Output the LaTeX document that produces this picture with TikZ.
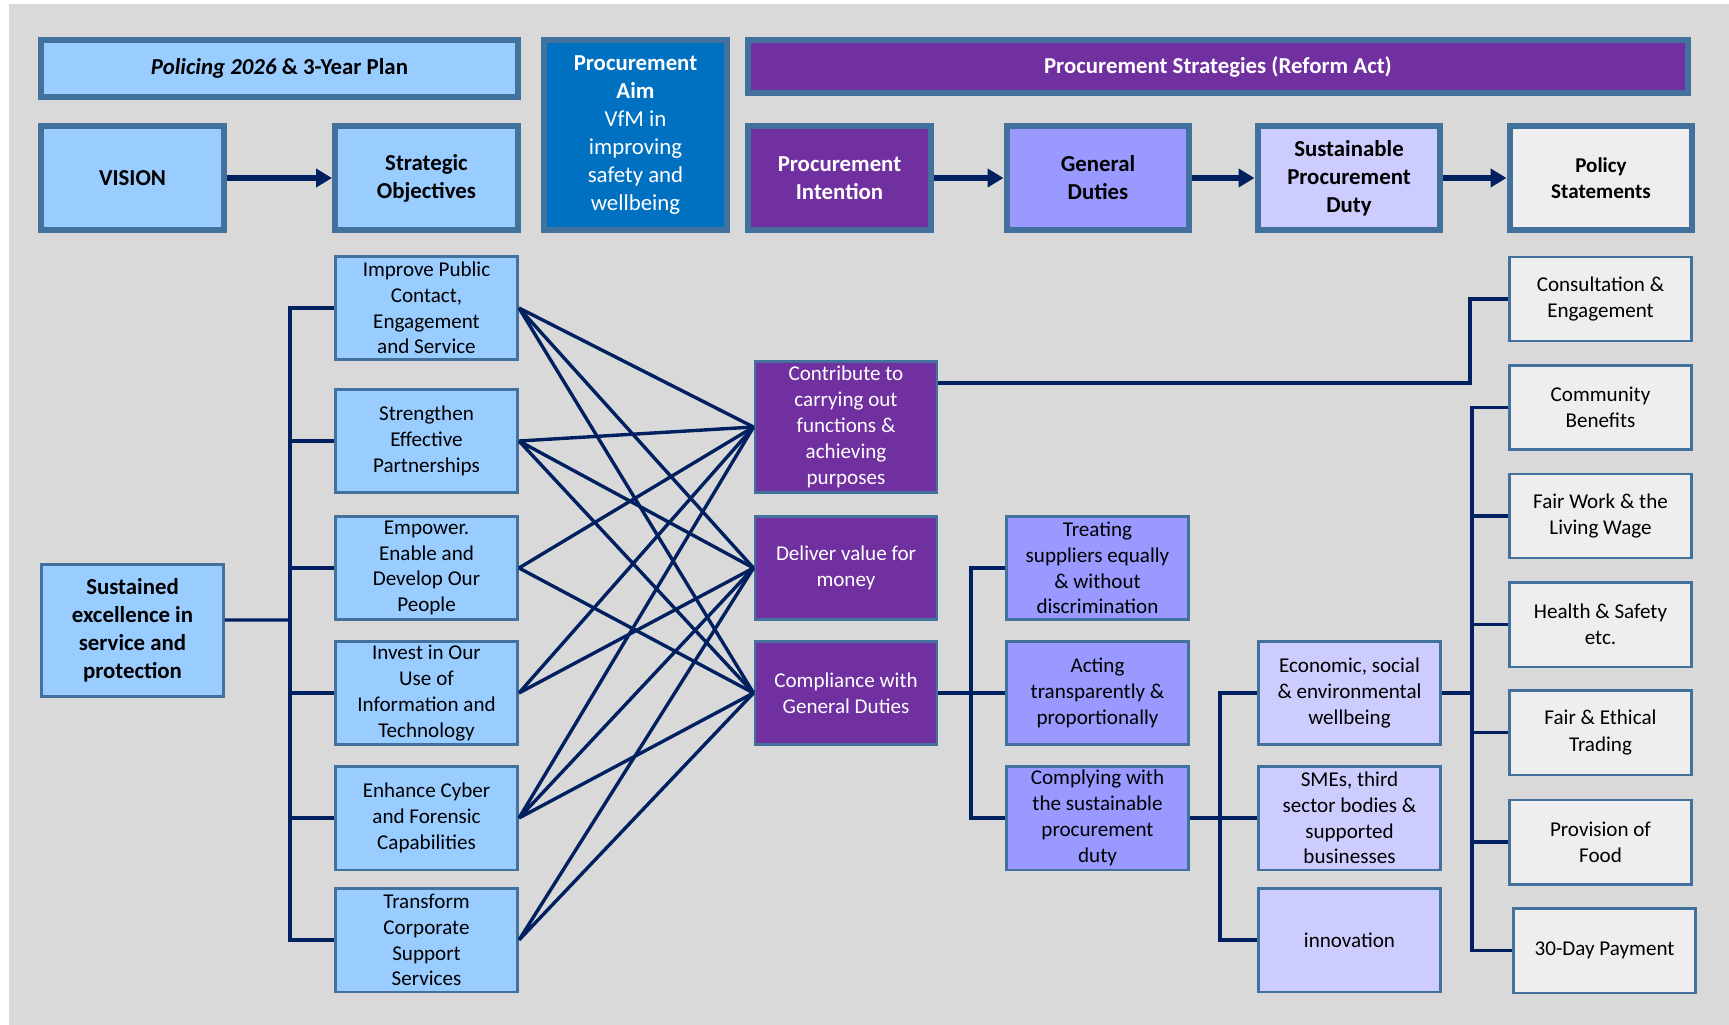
\documentclass[tikz,border=0pt]{standalone}
\usepackage{fontspec}
\setmainfont{Carlito}
\usetikzlibrary{arrows.meta}

\definecolor{bgrey}{HTML}{D9D9D9}
\definecolor{boxedge}{HTML}{41719C}
\definecolor{skyfill}{HTML}{99CCFF}
\definecolor{aimblue}{HTML}{0070C0}
\definecolor{purplefill}{HTML}{7030A0}
\definecolor{dutyfill}{HTML}{9999FF}
\definecolor{sustfill}{HTML}{CCCCFF}
\definecolor{policyfill}{HTML}{EEEEEE}
\definecolor{navy}{HTML}{002060}

\begin{document}
\begin{tikzpicture}[x=0.02cm,y=-0.02cm]
\tikzstyle{topbox}=[draw=boxedge,line width=0.12cm,align=center,inner sep=1pt,minimum width=3.66cm,minimum height=2.08cm,font=\fontsize{13}{16}\selectfont\bfseries]
\tikzstyle{lowbox}=[draw=boxedge,line width=0.05cm,align=center,inner xsep=2pt,inner ysep=0pt,minimum width=3.65cm,minimum height=2.07cm,font=\fontsize{12}{14.7}\selectfont]
\tikzstyle{listbox}=[lowbox,fill=policyfill,minimum height=1.69cm,font=\fontsize{12}{15}\selectfont]
\tikzstyle{link}=[draw=navy,line width=0.068cm]
\tikzstyle{flow}=[draw=navy,line width=0.12cm,-{Triangle[length=0.32cm,width=0.36cm]}]

\useasboundingbox (0,0) rectangle (1729,1025);
\fill[bgrey] (9,4) rectangle (1729,1025);

% header row
\node (plan) [topbox,fill=skyfill,minimum width=9.54cm,minimum height=1.14cm] at (279.5,68.5) {\textit{Policing 2026} \& 3-Year Plan};
\node (aim) [topbox,fill=aimblue,text=white,minimum height=3.8cm,font=\fontsize{13}{16}\selectfont] at (635.5,135) {\textbf{Procurement}\\\textbf{Aim}\\VfM in\\improving\\safety and\\wellbeing};
\node (strategy) [topbox,fill=purplefill,text=white,minimum width=18.8cm,minimum height=1.06cm] at (1218,66.5) {Procurement Strategies (Reform Act)};

\node (vision) [topbox,fill=skyfill] at (132.5,178) {VISION};
\node (objectives) [topbox,fill=skyfill] at (426.5,178) {Strategic\\Objectives};
\node (intention) [topbox,fill=purplefill,text=white] at (839.5,178) {Procurement\\Intention};
\node (duties) [topbox,fill=dutyfill] at (1098,178) {General\\Duties};
\node (sustain) [topbox,fill=sustfill] at (1349,178) {Sustainable\\Procurement\\Duty};
\node (policy) [topbox,fill=policyfill,font=\fontsize{12}{15}\selectfont\bfseries] at (1601,178) {Policy\\Statements};

\draw[flow] (vision) -- (objectives);
\draw[flow] (intention) -- (duties);
\draw[flow] (duties) -- (sustain);
\draw[flow] (sustain) -- (policy);

% vision and objectives
\node (excellence) [lowbox,fill=skyfill,minimum height=2.65cm,font=\fontsize{13}{16}\selectfont\bfseries] at (132.5,630.5) {Sustained\\excellence in\\service and\\protection};

\node (improve) [lowbox,fill=skyfill] at (426.5,308) {Improve Public\\Contact,\\Engagement\\and Service};
\node (strengthen) [lowbox,fill=skyfill] at (426.5,441) {Strengthen\\Effective\\Partnerships};
\node (empower) [lowbox,fill=skyfill] at (426.5,568) {Empower.\\Enable and\\Develop Our\\People};
\node (invest) [lowbox,fill=skyfill] at (426.5,693) {Invest in Our\\Use of\\Information and\\Technology};
\node (enhance) [lowbox,fill=skyfill] at (426.5,818) {Enhance Cyber\\and Forensic\\Capabilities};
\node (transform) [lowbox,fill=skyfill] at (426.5,940) {Transform\\Corporate\\Support\\Services};

% procurement intention
\node (contribute) [lowbox,fill=purplefill,text=white,minimum height=2.63cm] at (846,427) {Contribute to\\carrying out\\functions \&\\achieving\\purposes};
\node (deliver) [lowbox,fill=purplefill,text=white] at (846,568) {Deliver value for\\money};
\node (compliance) [lowbox,fill=purplefill,text=white] at (846,693) {Compliance with\\General Duties};

% general duties
\node (treating) [lowbox,fill=dutyfill] at (1097.5,568) {Treating\\suppliers equally\\\& without\\discrimination};
\node (acting) [lowbox,fill=dutyfill] at (1097.5,693) {Acting\\transparently \&\\proportionally};
\node (complying) [lowbox,fill=dutyfill] at (1097.5,818) {Complying with\\the sustainable\\procurement\\duty};

% sustainable procurement duty
\node (economic) [lowbox,fill=sustfill] at (1349.5,693) {Economic, social\\\& environmental\\wellbeing};
\node (smes) [lowbox,fill=sustfill] at (1349.5,818) {SMEs, third\\sector bodies \&\\supported\\businesses};
\node (innovation) [lowbox,fill=sustfill] at (1349.5,940) {innovation};

% policy statements
\node (consultation) [listbox] at (1600.5,299) {Consultation \&\\Engagement};
\node (community) [listbox] at (1600.5,407.5) {Community\\Benefits};
\node (fairwork) [listbox] at (1600.5,516) {Fair Work \& the\\Living Wage};
\node (health) [listbox] at (1600.5,624.5) {Health \& Safety\\etc.};
\node (ethical) [listbox] at (1600.5,732.5) {Fair \& Ethical\\Trading};
\node (food) [listbox] at (1600.5,842) {Provision of\\Food};
\node (payment) [listbox] at (1604.5,950.5) {30-Day Payment};

% objectives tree
\coordinate (objspine) at (290,620);
\draw[link] ([yshift=0.21cm]excellence.east) -- (objspine);
\draw[link] (improve.west) -| (objspine) |- (transform.west);
\draw[link] (strengthen.west) -- (strengthen.west -| objspine);
\draw[link] (empower.west) -- (empower.west -| objspine);
\draw[link] (invest.west) -- (invest.west -| objspine);
\draw[link] (enhance.west) -- (enhance.west -| objspine);

% objectives to intention
\draw[link] (improve.east) -- (contribute.west) (improve.east) -- (deliver.west) (improve.east) -- (compliance.west);
\draw[link] (strengthen.east) -- (contribute.west) (strengthen.east) -- (deliver.west) (strengthen.east) -- (compliance.west);
\draw[link] (empower.east) -- (contribute.west) (empower.east) -- (compliance.west);
\draw[link] (invest.east) -- (contribute.west) (invest.east) -- (deliver.west);
\draw[link] (enhance.east) -- (contribute.west) (enhance.east) -- (deliver.west) (enhance.east) -- (compliance.west);
\draw[link] (transform.east) -- (deliver.west) (transform.east) -- (compliance.west);

% duties and sustainable trees
\coordinate (dutyspine) at (971,693);
\draw[link] (compliance.east) -- (acting.west);
\draw[link] (treating.west) -| (dutyspine) |- (complying.west);

\coordinate (sustspine) at (1220,818);
\draw[link] (complying.east) -- (smes.west);
\draw[link] (economic.west) -| (sustspine) |- (innovation.west);

% policy tree
\coordinate (consultbend) at (1470,340);
\draw[link] ([yshift=0.88cm]contribute.east) -| (consultbend) |- (consultation.west);

\coordinate (policyspine) at (1472,693);
\draw[link] (economic.east) -- (policyspine);
\draw[link] (community.west) -| (policyspine) |- (payment.west);
\draw[link] (fairwork.west) -- (fairwork.west -| policyspine);
\draw[link] (health.west) -- (health.west -| policyspine);
\draw[link] (ethical.west) -- (ethical.west -| policyspine);
\draw[link] (food.west) -- (food.west -| policyspine);

\end{tikzpicture}
\end{document}
